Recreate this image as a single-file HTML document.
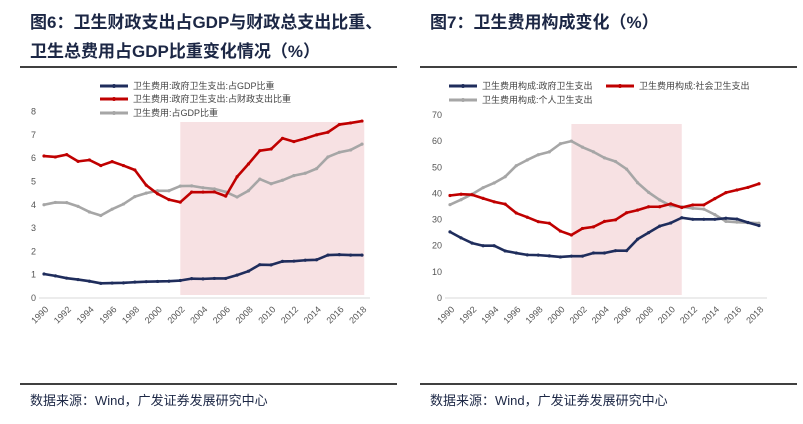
<!DOCTYPE html>
<html><head><meta charset="utf-8"><style>
body{margin:0;width:803px;height:424px;background:#fff;overflow:hidden;font-family:"Liberation Sans","Noto Sans CJK SC",sans-serif}
svg{position:absolute;left:0;top:0}
.t{font-weight:bold;font-size:17px;fill:#1c2745}
.f{font-size:13px;fill:#1c2745}
.lg{font-size:9px;fill:#444}
.ax{font-size:9px;fill:#555}
</style></head><body>
<svg width="803" height="424" id="s">
<text class="t" x="30" y="28">图6：卫生财政支出占GDP与财政总支出比重、</text>
<text class="t" x="30" y="57">卫生总费用占GDP比重变化情况（%）</text>
<text class="t" x="430" y="28">图7：卫生费用构成变化（%）</text>
<line x1="20" y1="67" x2="397" y2="67" stroke="#000" stroke-width="1.5"/>
<line x1="420" y1="67" x2="797" y2="67" stroke="#000" stroke-width="1.5"/>
<line x1="20" y1="384" x2="397" y2="384" stroke="#000" stroke-width="1.5"/>
<line x1="420" y1="384" x2="797" y2="384" stroke="#000" stroke-width="1.5"/>
<text class="f" x="30" y="405">数据来源：Wind，广发证券发展研究中心</text>
<text class="f" x="430" y="405">数据来源：Wind，广发证券发展研究中心</text>
<g id="c1"></g><g id="c2"></g>
</svg>
<script>
const years=[];for(let y=1990;y<=2018;y++)years.push(y);
const c1Blue=[1.03,0.95,0.85,0.79,0.72,0.63,0.64,0.65,0.68,0.7,0.71,0.72,0.75,0.83,0.82,0.84,0.84,0.98,1.15,1.43,1.42,1.57,1.58,1.62,1.64,1.84,1.86,1.84,1.84];
const c1Red=[6.09,6.05,6.15,5.86,5.92,5.68,5.85,5.68,5.49,4.84,4.47,4.22,4.11,4.54,4.54,4.55,4.37,5.2,5.75,6.32,6.39,6.85,6.71,6.84,7.0,7.11,7.44,7.51,7.59];
const c1Gray=[4.0,4.1,4.09,3.93,3.69,3.54,3.81,4.03,4.35,4.5,4.6,4.6,4.8,4.81,4.73,4.68,4.55,4.33,4.6,5.1,4.9,5.05,5.25,5.35,5.55,6.05,6.25,6.35,6.6];
const c1Ticks=[0,1,2,3,4,5,6,7,8];
const c2Blue=[25.3,23,21,20,20,18,17.2,16.5,16.4,16.1,15.7,16.0,16.0,17.2,17.2,18.1,18.1,22.5,25,27.5,28.7,30.7,30.1,30.1,30.1,30.5,30.2,28.9,27.7];
const c2Red=[39.2,39.7,39.5,38.1,36.8,35.9,32.5,30.9,29.2,28.6,25.6,24.1,26.6,27.2,29.3,29.9,32.6,33.6,34.9,34.9,36.0,34.6,35.6,35.6,38.0,40.3,41.3,42.3,43.7];
const c2Gray=[35.7,37.6,39.7,42.2,44.0,46.4,50.6,52.8,54.8,55.9,59.0,60.0,57.7,55.9,53.6,52.2,49.3,44.1,40.4,37.5,35.3,34.9,34.3,34.0,31.9,29.3,29.0,28.8,28.6];
const c2Ticks=[0,10,20,30,40,50,60,70];
const NS='http://www.w3.org/2000/svg';
function mk(p,t,a){const e=document.createElementNS(NS,t);for(const k in a)e.setAttribute(k,a[k]);p.appendChild(e);return e;}
function chart(g,cfg){
 const xy=yr=>cfg.x0+(cfg.x1-cfg.x0)*(yr-1990)/28;
 const x=i=>xy(years[i]);
 const y=v=>cfg.y0-(cfg.y0-cfg.yTop)*v/cfg.max;
 const sh=mk(g,'rect',{x:xy(cfg.sh[0]),y:cfg.shTop,width:xy(cfg.sh[1])-xy(cfg.sh[0]),height:cfg.y0-3-cfg.shTop,fill:'#f7e1e3'});
 
 
 mk(g,'line',{x1:cfg.x0-5,x2:cfg.x1+8,y1:cfg.y0,y2:cfg.y0,stroke:'#d9d9d9'});
 cfg.ticks.forEach(t=>{const e=mk(g,'text',{x:cfg.x0-8,y:y(t)+3,'text-anchor':'end',class:'ax'});e.textContent=t;
  
  });
 years.forEach((yr,i)=>{if(yr%2)return;const e=mk(g,'text',{x:x(i)+5,y:cfg.y0+12,'text-anchor':'end',class:'ax',transform:`rotate(-45 ${x(i)+5} ${cfg.y0+12})`});e.textContent=yr;
  
  });
 cfg.series.forEach(s=>{
  const pl=mk(g,'polyline',{points:s.d.map((v,i)=>x(i)+','+y(v)).join(' '),fill:'none',stroke:s.c,'stroke-width':2.6,'stroke-linejoin':'round'});
  
  
  s.d.forEach((v,i)=>mk(g,'circle',{cx:x(i),cy:y(v),r:1.6,fill:s.c}));
  const lx=s.lx,ly=s.ly;
  mk(g,'line',{x1:lx,x2:lx+28,y1:ly,y2:ly,stroke:s.c,'stroke-width':3});
  mk(g,'circle',{cx:lx+14,cy:ly,r:2,fill:s.c});
  const t=mk(g,'text',{x:lx+33,y:ly+3,class:'lg'});t.textContent=s.l;
  
  
 });
}
chart(document.getElementById('c1'),{x0:44,x1:362,y0:298,yTop:111.5,max:8,ticks:c1Ticks,sh:[2002,2018.2],shTop:122,
 series:[{d:c1Gray,c:'#a6a6a6',n:'line-total-health-gdp',l:'卫生费用:占GDP比重',lx:100,ly:113},
 {d:c1Red,c:'#c00000',n:'line-gov-health-fiscal',l:'卫生费用:政府卫生支出:占财政支出比重',lx:100,ly:99},
 {d:c1Blue,c:'#1f2d5c',n:'line-gov-health-gdp',l:'卫生费用:政府卫生支出:占GDP比重',lx:100,ly:86}]});
chart(document.getElementById('c2'),{x0:450,x1:759,y0:298,yTop:115,max:70,ticks:c2Ticks,sh:[2001,2011],shTop:124,
 series:[{d:c2Gray,c:'#a6a6a6',n:'line-personal',l:'卫生费用构成:个人卫生支出',lx:449,ly:100},
 {d:c2Red,c:'#c00000',n:'line-social',l:'卫生费用构成:社会卫生支出',lx:606,ly:86},
 {d:c2Blue,c:'#1f2d5c',n:'line-government',l:'卫生费用构成:政府卫生支出',lx:449,ly:86}]});
</script>
</body></html>
